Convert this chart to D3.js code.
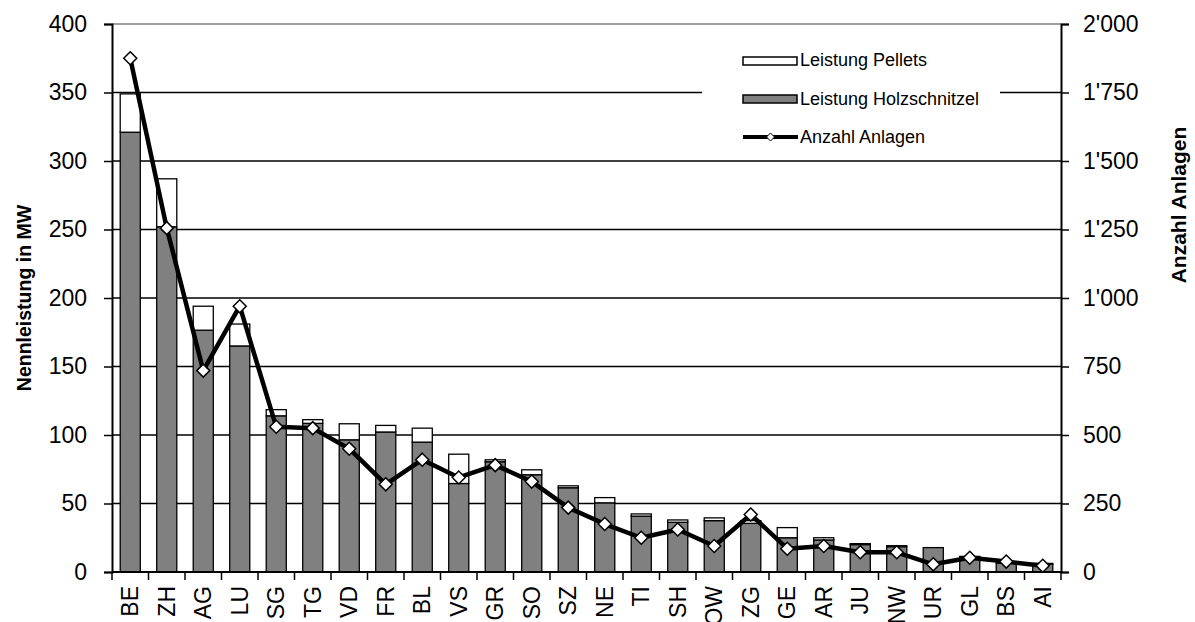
<!DOCTYPE html>
<html>
<head>
<meta charset="utf-8">
<script src="https://cdn.jsdelivr.net/npm/d3@7"></script>
<style>
  html, body { margin: 0; padding: 0; background: #fff; }
  svg { display: block; font-family: "Liberation Sans", Arial, sans-serif; }
</style>
</head>
<body>
<svg id="chart" width="1195" height="622"></svg>
<script>
// Cantons, ordered by installed capacity
const cantons = ["BE","ZH","AG","LU","SG","TG","VD","FR","BL","VS","GR","SO","SZ",
                 "NE","TI","SH","OW","ZG","GE","AR","JU","NW","UR","GL","BS","AI"];
// Nennleistung Holzschnitzel-Anlagen [MW]
const holzschnitzel = [321, 252, 176.5, 165, 114, 108.5, 96.5, 102.2, 94.8, 64.6, 80.5, 71, 61.5,
                       50.5, 40.8, 36.3, 37.5, 35.5, 25, 23.4, 20, 18.5, 17.8, 11, 6.5, 5.6];
// Nennleistung Pellet-Anlagen [MW]
const pellets = [28, 35, 17.5, 16, 4.5, 2.7, 11.7, 4.8, 10.2, 21.4, 1.4, 3.6, 1.4,
                 3.8, 1.6, 1.7, 2, 2, 7.4, 1.6, 0.7, 0.7, 0, 0.4, 1, 0.7];
// Anzahl Anlagen
const anlagen = [1875, 1255, 735, 970, 530, 525, 450, 320, 410, 345, 390, 330, 235,
                 175, 125, 155, 95, 210, 85, 95, 72, 72, 28, 52, 38, 23];
// Axis ticks
const leftTicks = [0, 50, 100, 150, 200, 250, 300, 350, 400];
const rightTicks = [0, 250, 500, 750, 1000, 1250, 1500, 1750, 2000];

const svg = d3.select("#chart");
const plotLeft = 112, plotRight = 1061, plotTop = 24, plotBottom = 572;
const tickFont = 23;

const x = d3.scaleBand().domain(cantons).range([plotLeft, plotRight]).paddingInner(0.45).paddingOuter(0.225);
const xStep = d3.scaleBand().domain(cantons).range([plotLeft, plotRight]);
const yL = d3.scaleLinear().domain([0, 400]).range([plotBottom, plotTop]);
const yR = d3.scaleLinear().domain([0, 2000]).range([plotBottom, plotTop]);

const fmt = d3.formatLocale({decimal: ".", thousands: "'", grouping: [3], currency: ["", ""]}).format(",");

// Gridlines
svg.append("g").selectAll("line")
  .data(leftTicks.filter(t => t > 0 && t < 400))
  .join("line")
  .attr("x1", plotLeft).attr("x2", plotRight)
  .attr("y1", d => yL(d)).attr("y2", d => yL(d))
  .attr("stroke", "#000").attr("stroke-width", 1.3);
// Plot area top border
svg.append("line")
  .attr("x1", plotLeft).attr("x2", plotRight).attr("y1", yL(400)).attr("y2", yL(400))
  .attr("stroke", "#808080").attr("stroke-width", 1.5);

// Legend background (covers the gridline behind it)
svg.append("rect").attr("x", 702).attr("y", 42).attr("width", 298).attr("height", 110).attr("fill", "#fff");

// Stacked bars
const barG = svg.append("g");
cantons.forEach((c, i) => {
  const h = holzschnitzel[i], p = pellets[i];
  barG.append("rect")
    .attr("x", x(c)).attr("width", x.bandwidth())
    .attr("y", yL(h)).attr("height", yL(0) - yL(h))
    .attr("fill", "#808080").attr("stroke", "#000").attr("stroke-width", 1.3);
  if (p > 0) {
    barG.append("rect")
      .attr("x", x(c)).attr("width", x.bandwidth())
      .attr("y", yL(h + p)).attr("height", yL(h) - yL(h + p))
      .attr("fill", "#fff").attr("stroke", "#000").attr("stroke-width", 1.3);
  }
});

// Left axis
const axL = svg.append("g").attr("transform", `translate(${plotLeft},0)`)
  .call(d3.axisLeft(yL).tickValues(leftTicks).tickSize(8).tickPadding(17).tickFormat(d3.format("d")));
axL.select(".domain").attr("stroke", "#000").attr("stroke-width", 2);
axL.selectAll(".tick line").attr("stroke", "#000").attr("stroke-width", 1.5);
axL.selectAll("text").attr("font-size", tickFont).attr("fill", "#000").attr("font-family", "Liberation Sans, Arial, sans-serif");

// Right axis
const axR = svg.append("g").attr("transform", `translate(${plotRight},0)`)
  .call(d3.axisRight(yR).tickValues(rightTicks).tickSize(8).tickPadding(14).tickFormat(fmt));
axR.select(".domain").attr("stroke", "#000").attr("stroke-width", 2);
axR.selectAll(".tick line").attr("stroke", "#000").attr("stroke-width", 1.5);
axR.selectAll("text").attr("font-size", tickFont).attr("fill", "#000").attr("font-family", "Liberation Sans, Arial, sans-serif");

// Bottom axis line and category separators
svg.append("line").attr("x1", plotLeft).attr("x2", plotRight).attr("y1", plotBottom).attr("y2", plotBottom)
  .attr("stroke", "#000").attr("stroke-width", 2);
svg.append("g").selectAll("line")
  .data(d3.range(cantons.length + 1))
  .join("line")
  .attr("x1", i => plotLeft + i * xStep.step()).attr("x2", i => plotLeft + i * xStep.step())
  .attr("y1", plotBottom).attr("y2", plotBottom + 8)
  .attr("stroke", "#000").attr("stroke-width", 1.5);

// Category labels
svg.append("g").selectAll("text")
  .data(cantons)
  .join("text")
  .attr("transform", d => `translate(${x(d) + x.bandwidth() / 2 + 8},${plotBottom + 14}) rotate(-90)`)
  .attr("text-anchor", "end")
  .attr("font-size", tickFont)
  .text(d => d);

// Line: Anzahl Anlagen
const line = d3.line().x((d, i) => x(cantons[i]) + x.bandwidth() / 2).y(d => yR(d));
svg.append("path").datum(anlagen)
  .attr("d", line).attr("fill", "none").attr("stroke", "#000")
  .attr("stroke-width", 4.5).attr("stroke-linejoin", "round");

const diamond = (s) => `M0,${-s}L${s},0L0,${s}L${-s},0Z`;
svg.append("g").selectAll("path")
  .data(anlagen)
  .join("path")
  .attr("transform", (d, i) => `translate(${x(cantons[i]) + x.bandwidth() / 2},${yR(d)})`)
  .attr("d", diamond(6.5))
  .attr("fill", "#fff").attr("stroke", "#000").attr("stroke-width", 1.5);

// Axis titles
svg.append("text")
  .attr("transform", `translate(31,${(plotTop + plotBottom) / 2}) rotate(-90)`)
  .attr("text-anchor", "middle").attr("font-size", 19.5).attr("font-weight", "bold")
  .text("Nennleistung in MW");
svg.append("text")
  .attr("transform", `translate(1186,205) rotate(-90)`)
  .attr("text-anchor", "middle").attr("font-size", 21).attr("font-weight", "bold")
  .text("Anzahl Anlagen");

// Legend
const lg = svg.append("g").attr("font-size", 18);
lg.append("rect").attr("x", 743).attr("y", 57).attr("width", 54).attr("height", 8)
  .attr("fill", "#fff").attr("stroke", "#000").attr("stroke-width", 1.5);
lg.append("text").attr("x", 800).attr("y", 66).text("Leistung Pellets");
lg.append("rect").attr("x", 743).attr("y", 95).attr("width", 54).attr("height", 8)
  .attr("fill", "#808080").attr("stroke", "#000").attr("stroke-width", 1.5);
lg.append("text").attr("x", 800).attr("y", 104.5).text("Leistung Holzschnitzel");
lg.append("line").attr("x1", 743).attr("x2", 798).attr("y1", 137).attr("y2", 137)
  .attr("stroke", "#000").attr("stroke-width", 4);
lg.append("path").attr("transform", "translate(770.5,137)").attr("d", diamond(4))
  .attr("fill", "#fff").attr("stroke", "#000").attr("stroke-width", 1);
lg.append("text").attr("x", 800).attr("y", 142.5).text("Anzahl Anlagen");
</script>
</body>
</html>
